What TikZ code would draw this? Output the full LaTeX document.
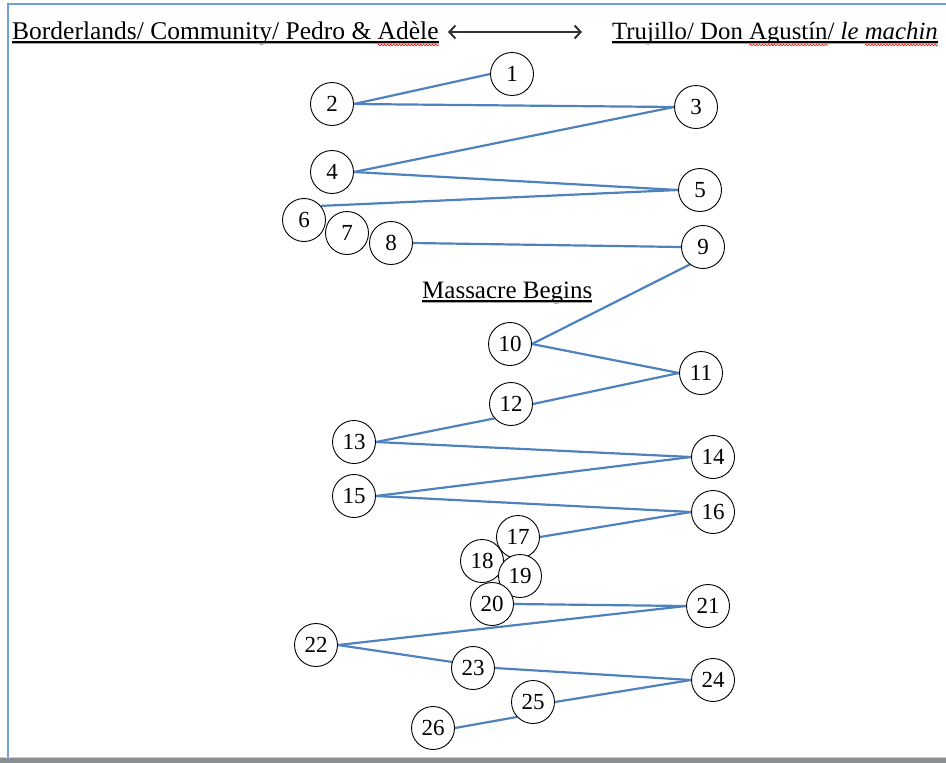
\documentclass[tikz,border=0pt]{standalone}
\usepackage{fontspec}
\setmainfont{Liberation Serif}
\usetikzlibrary{calc}
\usetikzlibrary{arrows.meta}
\usetikzlibrary{backgrounds}
\usetikzlibrary{decorations.pathmorphing}

\definecolor{linkblue}{RGB}{79,129,189}
\definecolor{frameblue}{RGB}{112,158,214}
\definecolor{bargray}{RGB}{138,143,148}

\tikzset{
  num/.style={circle, draw=black, line width=0.9pt, fill=white, minimum size=43pt, inner sep=0pt, font=\fontsize{23}{23}\selectfont},
  link/.style={linkblue, line width=2.2pt},
  hdr/.style={inner sep=0pt, anchor=base west, font=\fontsize{25.5}{30}\selectfont},
  uline/.style={black, line width=1.1pt},
  spell/.style={red, line width=0.6pt, decorate, decoration={snake, amplitude=0.8pt, segment length=3pt}}
}

\begin{document}
\begin{tikzpicture}[x=1pt, y=-1pt]
\useasboundingbox (0,0) rectangle (946,763);
% page frame
\draw[frameblue, line width=2pt] (8,757) -- (8,4) -- (946,4);
\fill[black!20] (0,756.5) rectangle (946,758);
\fill[bargray] (0,758) rectangle (946,763);

% headings
\node[hdr] (left) at (12,39) {Borderlands/ Community/ Pedro \& Adèle};
\node[hdr, font=\fontsize{24.8}{30}\selectfont] (right) at (612,39) {Trujillo/ Don Agustín/ \textit{le machin}};
\node[hdr, font=\fontsize{25}{30}\selectfont] (massacre) at (422,298) {Massacre Begins};
\foreach \t in {left,right,massacre} {
 \draw[black!35, line width=1.2pt] ([yshift=-4.6pt]\t.base west) -- ([yshift=-4.6pt]\t.base east);
 \draw[uline] ([yshift=-3pt]\t.base west) -- ([yshift=-3pt]\t.base east);
}
\draw[spell] ($([yshift=-6pt]left.base west)!0.857!([yshift=-6pt]left.base east)$) -- ([yshift=-6pt]left.base east);
\draw[spell] ($([yshift=-6pt]right.base west)!0.422!([yshift=-6pt]right.base east)$) -- ($([yshift=-6pt]right.base west)!0.662!([yshift=-6pt]right.base east)$);
\draw[spell] ($([yshift=-6pt]right.base west)!0.776!([yshift=-6pt]right.base east)$) -- ([yshift=-6pt]right.base east);

\coordinate (al) at (448,32);
\coordinate (ar) at (582,32);
\draw[{Straight Barb[length=6pt,width=13pt]}-{Straight Barb[length=6pt,width=13pt]}, line width=2pt, black!80] (al) -- (ar);

% numbered events
\foreach \n/\px/\py in {1/512/74, 2/332/104, 3/696/107, 4/332/172, 5/700/190,
  6/304/220, 7/347/233, 8/391/243, 9/703/247, 10/510/344, 11/701/373,
  12/511/404, 13/354/442, 14/713/457, 15/354/496, 16/713/512, 17/518/537,
  18/482/561, 19/520/576, 20/492/604, 21/708/606, 22/316/645, 23/473/668,
  24/713/680, 25/533/702, 26/433/728}
 \node[num] (n\n) at (\px,\py) {\n};

\begin{scope}[on background layer]
\foreach \a/\b in {n2.east/n1.west, n2.east/n3.west, n4.east/n3.west, n4.east/n5.west,
  n6.40/n5.west, n8.east/n9.west, n10.east/n9.233, n10.east/n11.west,
  n12.east/n11.west, n13.east/n12.221, n13.east/n14.west, n15.east/n14.west,
  n15.east/n16.west, n17.east/n16.west, n20.east/n21.west, n22.east/n21.west,
  n22.east/n23.164, n23.east/n24.west, n25.east/n24.west, n26.east/n25.223}
 \draw[link] (\a) -- (\b);
\end{scope}
\end{tikzpicture}
\end{document}
